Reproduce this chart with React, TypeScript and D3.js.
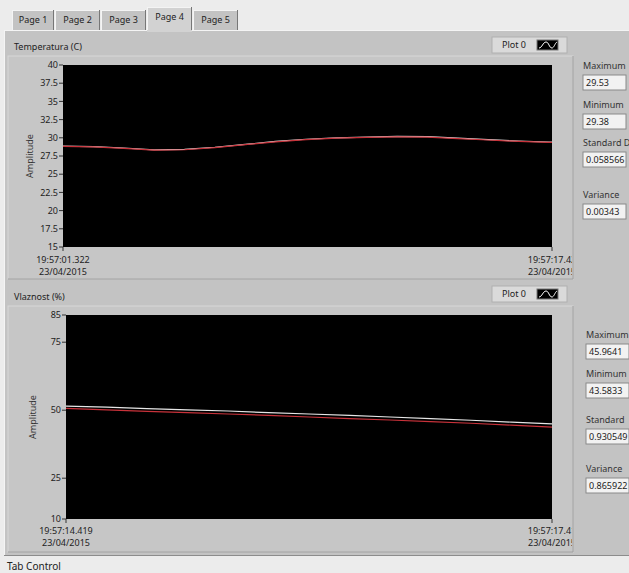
import React from 'react';
import * as d3 from 'd3';

const tabLabels = ['Page 1', 'Page 2', 'Page 3', 'Page 4', 'Page 5'];
const selectedTab = 3;

// Temperature graph (seconds from 19:57:01.322)
const tempTimes = [0, 1, 2, 3, 4, 5, 6, 7, 8, 9, 10, 11, 12, 13, 14, 15, 16, 16.1];
const tempWhite = [28.87, 28.8, 28.6, 28.35, 28.4, 28.7, 29.1, 29.5, 29.8, 30.0, 30.1, 30.2, 30.15, 29.95, 29.75, 29.55, 29.42, 29.4];
const tempRed = [28.82, 28.74, 28.55, 28.3, 28.36, 28.64, 29.05, 29.44, 29.74, 29.95, 30.05, 30.12, 30.1, 29.9, 29.7, 29.5, 29.38, 29.36];
const tempTicks = [40, 37.5, 35, 32.5, 30, 27.5, 25, 22.5, 20, 17.5, 15];
const tempXLabels = [['19:57:01.322', '23/04/2015'], ['19:57:17.42', '23/04/2015']];
const tempStats = [['Maximum', '29.53'], ['Minimum', '29.38'], ['Standard D', '0.058566'], ['Variance', '0.00343']];

// Humidity graph (seconds from 19:57:14.419)
const humTimes = [0, 0.25, 0.5, 0.75, 1, 1.25, 1.5, 1.75, 2, 2.25, 2.5, 2.75, 3];
const humWhite = [51.5, 51.1, 50.6, 50.1, 49.7, 49.1, 48.6, 48.1, 47.5, 46.9, 46.3, 45.6, 45.0];
const humRed = [50.7, 50.1, 49.6, 49.1, 48.6, 48.1, 47.5, 46.9, 46.4, 45.8, 45.2, 44.5, 43.8];
const humTicks = [85, 75, 50, 25, 10];
const humXLabels = [['19:57:14.419', '23/04/2015'], ['19:57:17.41', '23/04/2015']];
const humStats = [['Maximum', '45.9641'], ['Minimum', '43.5833'], ['Standard', '0.930549'], ['Variance', '0.865922']];

const FONT = '"Noto Sans", "DejaVu Sans", sans-serif';

function Legend({ x, y }: { x: number; y: number }) {
  return (
    <g transform={`translate(${x},${y})`}>
      <rect x={0} y={0} width={75} height={16} fill="#dadada" stroke="#b0b0b0" />
      <text x={10} y={8} dy="0.35em" fontSize={9} fill="#222" fontFamily={FONT}>Plot 0</text>
      <rect x={45} y={3} width={21} height={10} fill="#000" stroke="#777" />
      <path d="M47,11 C50,11 51,5 54,5 C57,5 57,11 60,11 C62,11 63,6 65,5" fill="none" stroke="#fff" strokeWidth={1} />
    </g>
  );
}

function Graph(props: {
  title: string; titleY: number; frameY: number; frameH: number;
  px0: number; px1: number; py0: number; py1: number;
  times: number[]; white: number[]; red: number[]; ticks: number[]; domain: [number, number];
  xLabels: string[][]; legendY: number; id: string; l1: number; l2: number;
}) {
  const { px0, px1, py0, py1, times, white, red, ticks, domain, xLabels } = props;
  const x = d3.scaleLinear().domain([times[0], times[times.length - 1]]).range([px0, px1]);
  const y = d3.scaleLinear().domain(domain).range([py1, py0]);
  const lineW = d3.line<number>().x((_, i) => x(times[i])).y((d) => y(d));
  const xEnds = x.domain();
  return (
    <g>
      <text x={14} y={props.titleY} dy="0.35em" fontSize={9} fill="#222" fontFamily={FONT}>{props.title}</text>
      <Legend x={492} y={props.legendY} />
      <rect x={8} y={props.frameY} width={565} height={props.frameH} fill="#c6c6c6" stroke="#d8d8d8" />
      <line x1={573} y1={props.frameY} x2={573} y2={props.frameY + props.frameH} stroke="#9a9a9a" />
      <line x1={8} y1={props.frameY + props.frameH} x2={573} y2={props.frameY + props.frameH} stroke="#9a9a9a" />
      <rect x={px0} y={py0} width={px1 - px0} height={py1 - py0} fill="#000" />
      <clipPath id={`clip-${props.id}`}>
        <rect x={px0} y={py0} width={px1 - px0} height={py1 - py0} />
      </clipPath>
      <g clipPath={`url(#clip-${props.id})`}>
        <path d={lineW(white) || ''} fill="none" stroke="#e6e6e6" strokeWidth={1.2} />
        <path d={lineW(red) || ''} fill="none" stroke="#c8323a" strokeWidth={1.2} />
      </g>
      {ticks.map((t) => (
        <g key={t}>
          <line x1={px0 - 4} x2={px0} y1={y(t)} y2={y(t)} stroke="#333" />
          <text x={px0 - 5} y={y(t)} dy="0.35em" textAnchor="end" fontSize={9} fill="#222" fontFamily={FONT}>{t}</text>
        </g>
      ))}
      <text transform={`translate(${px0 - 33},${(py0 + py1) / 2}) rotate(-90)`} textAnchor="middle" dy="0.35em" fontSize={9} fill="#333" fontFamily={FONT}>Amplitude</text>
      <clipPath id={`clipx-${props.id}`}>
        <rect x={8} y={py1} width={564} height={40} />
      </clipPath>
      <g clipPath={`url(#clipx-${props.id})`}>
        {xEnds.map((t, i) => (
          <g key={i}>
            <line x1={x(t)} x2={x(t)} y1={py1} y2={py1 + 4} stroke="#333" />
            <text x={x(t)} y={py1 + props.l1} dy="0.35em" textAnchor="middle" fontSize={9} fill="#222" fontFamily={FONT}>{xLabels[i][0]}</text>
            <text x={x(t)} y={py1 + props.l2} dy="0.35em" textAnchor="middle" fontSize={9} fill="#222" fontFamily={FONT}>{xLabels[i][1]}</text>
          </g>
        ))}
      </g>
    </g>
  );
}

function Stats({ x, rows, labelYs, id }: { x: number; rows: string[][]; labelYs: number[]; id: string }) {
  return (
    <g>
      {rows.map((r, i) => (
        <g key={i}>
          <text x={x} y={labelYs[i]} dy="0.35em" fontSize={9} fill="#333" fontFamily={FONT}>{r[0]}</text>
          <clipPath id={`sc-${id}-${i}`}>
            <rect x={x} y={labelYs[i] + 9} width={43} height={15} />
          </clipPath>
          <rect x={x} y={labelYs[i] + 9} width={43} height={15} fill="#f2f2f2" stroke="#8a8a8a" />
          <g clipPath={`url(#sc-${id}-${i})`}>
            <text x={x + 3} y={labelYs[i] + 16.5} dy="0.35em" fontSize={9} fill="#222" fontFamily={FONT}>{r[1]}</text>
          </g>
        </g>
      ))}
    </g>
  );
}

export default function App() {
  const tabX = [12, 55, 101, 147, 193];
  const tabW = [42, 45, 45, 45, 45];
  return (
    <svg width={629} height={573} style={{ position: 'absolute', left: 0, top: 0, display: 'block' }}>
      <rect x={0} y={0} width={629} height={573} fill="#ececec" />
      <rect x={4} y={30} width={630} height={526} fill="#c3c3c3" />
      <line x1={4.5} y1={30} x2={4.5} y2={556} stroke="#f4f4f4" />
      <line x1={4} y1={30.5} x2={629} y2={30.5} stroke="#f4f4f4" />
      <line x1={4} y1={555.5} x2={629} y2={555.5} stroke="#8c8c8c" />
      {tabLabels.map((t, i) => {
        const sel = i === selectedTab;
        const top = sel ? 7 : 10;
        return (
          <g key={t}>
            <rect x={tabX[i]} y={top} width={tabW[i]} height={(sel ? 25 : 20)} fill={sel ? '#d2d2d2' : '#c3c3c3'} />
            <line x1={tabX[i] + 0.5} y1={top} x2={tabX[i] + 0.5} y2={30} stroke="#f4f4f4" />
            <line x1={tabX[i]} y1={top + 0.5} x2={tabX[i] + tabW[i]} y2={top + 0.5} stroke="#f4f4f4" />
            <line x1={tabX[i] + tabW[i] - 0.5} y1={top} x2={tabX[i] + tabW[i] - 0.5} y2={30} stroke="#777" />
            <text x={tabX[i] + tabW[i] / 2} y={sel ? 17 : 20} dy="0.35em" textAnchor="middle" fontSize={9} fill="#222" fontFamily={FONT}>{t}</text>
          </g>
        );
      })}
      <Graph id="t" title="Temperatura (C)" titleY={47} frameY={56} frameH={223} px0={63} px1={552} py0={65} py1={247}
        times={tempTimes} white={tempWhite} red={tempRed} ticks={tempTicks} domain={[15, 40]} xLabels={tempXLabels} legendY={37} l1={13} l2={25} />
      <Graph id="h" title="Vlaznost (%)" titleY={297} frameY={306} frameH={246} px0={66} px1={552} py0={315} py1={519}
        times={humTimes} white={humWhite} red={humRed} ticks={humTicks} domain={[10, 85]} xLabels={humXLabels} legendY={286} l1={12} l2={24} />
      <Stats id="t" x={583} rows={tempStats} labelYs={[66, 105, 143, 195]} />
      <Stats id="h" x={586} rows={humStats} labelYs={[335, 374, 420, 469]} />
      <text x={7} y={566} dy="0.35em" fontSize={10} fill="#222" fontFamily={FONT}>Tab Control</text>
    </svg>
  );
}
